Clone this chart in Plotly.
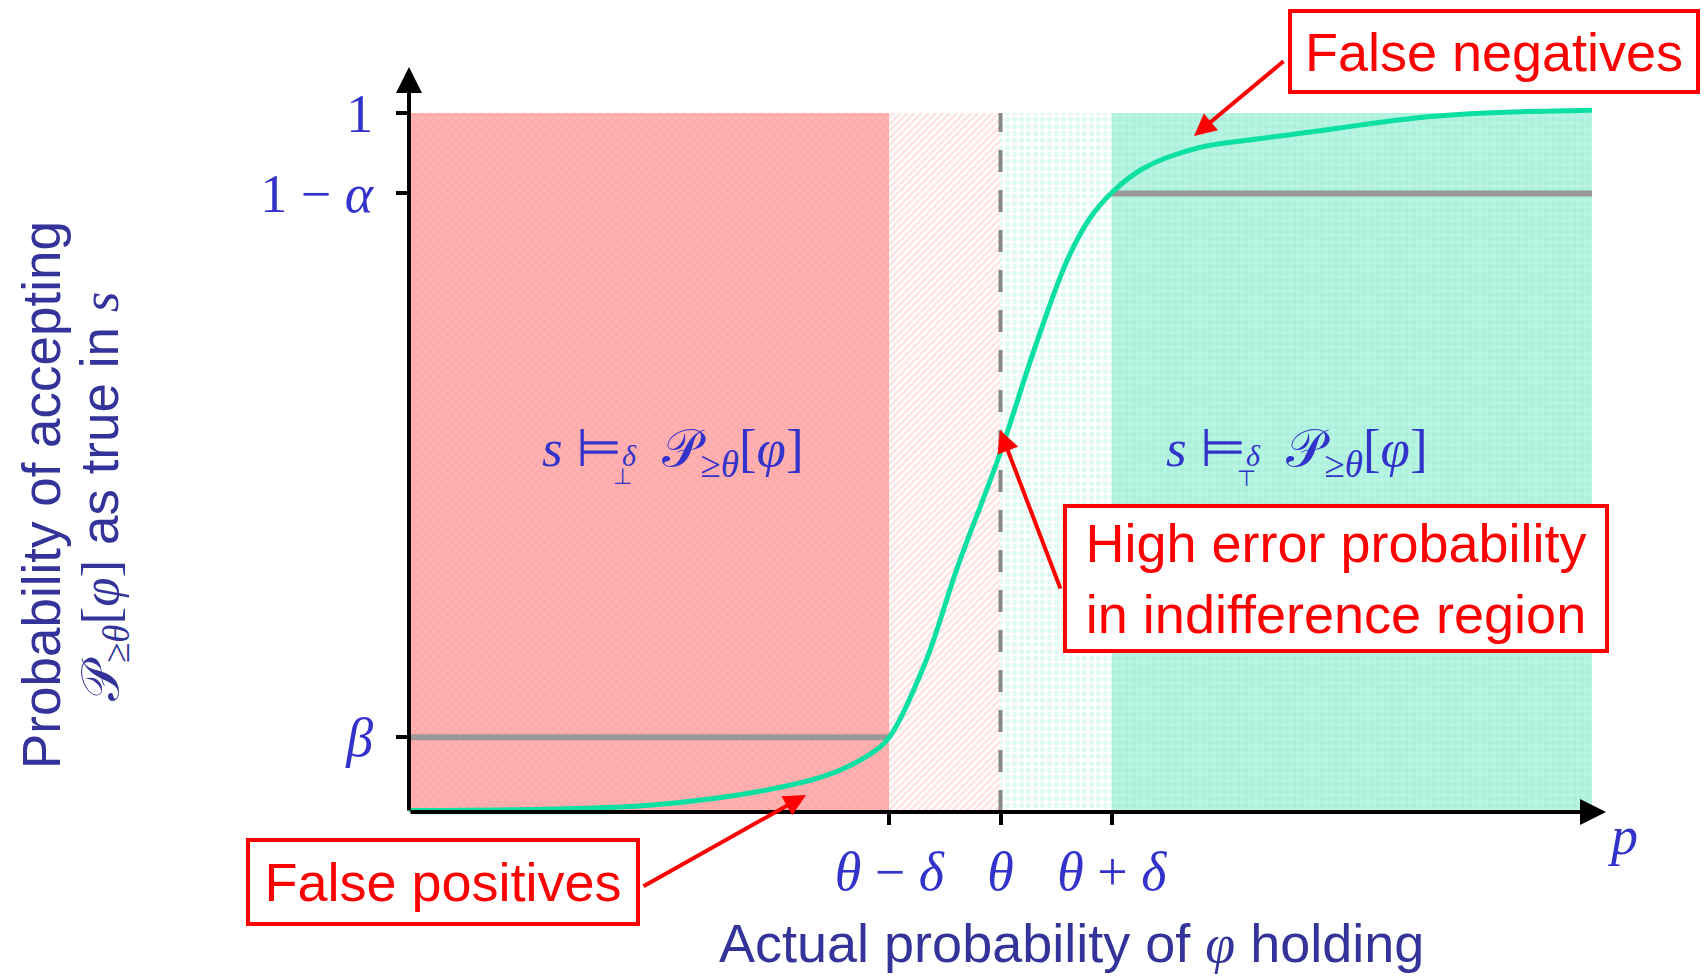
import plotly.graph_objects as go

# ---------------- data ----------------
THETA = 0.5
DELTA = 0.094
ALPHA = 0.115
BETA = 0.107

# operating characteristic curve (p -> probability of accepting)
curve_p = [0.0, 0.114, 0.206, 0.298, 0.354, 0.390, 0.406, 0.436, 0.464, 0.499,
           0.529, 0.556, 0.575, 0.594, 0.621, 0.667, 0.713, 0.759, 0.805, 0.851,
           0.897, 0.943, 1.0]
curve_y = [0.002, 0.004, 0.010, 0.030, 0.053, 0.083, 0.107, 0.212, 0.352, 0.510,
           0.664, 0.788, 0.848, 0.886, 0.921, 0.950, 0.962, 0.972, 0.983, 0.993,
           0.999, 1.002, 1.004]

region_edges = [0.0, THETA - DELTA, THETA, THETA + DELTA, 1.0]
x_tick_vals = [THETA - DELTA, THETA, THETA + DELTA]
x_tick_text = ['<i>θ</i> − <i>δ</i>', '<i>θ</i>', '<i>θ</i> + <i>δ</i>']
y_tick_vals = [BETA, 1 - ALPHA, 1.0]
y_tick_text = ['<i>β</i>', '1 − <i>α</i>', '1']

# ---------------- styling ----------------
W, H = 1707, 979
ML, MR, MT, MB = 409, 101, 67, 167
PW, PH = W - ML - MR, H - MT - MB
X_MAX = 1.0 + (PW - 1183) / 1183.0
Y_MAX = PH / 699.0

SANS = "Liberation Sans, Arial, sans-serif"
SERIF = "Liberation Serif, Times New Roman, serif"
BLUE = "#3333CC"
NAVY = "#333399"
RED = "#FF0000"
GREEN = "#0BDFA2"
GRAY = "#999999"


def px(x):
    return (x - ML) / PW


def py(y):
    return (H - MB - y) / PH


def label(x, y, text, font, **kw):
    d = dict(x=px(x), y=py(y), xref="paper", yref="paper", text=text,
             showarrow=False, xanchor="center", yanchor="middle", font=font)
    d.update(kw)
    return d


fig = go.Figure()

region_styles = [
    dict(bg="#FFB1B1", fg="#FF9A9A", shape="x", size=6, sol=0.3),
    dict(bg="#FFFFFF", fg="#FFC4C4", shape="/", size=5, sol=0.5),
    dict(bg="#FFFFFF", fg="#BFF6E6", shape=".", size=7, sol=0.45),
    dict(bg="#B7F4E1", fg="#9CEDD5", shape=".", size=7, sol=0.4),
]
for i, st in enumerate(region_styles):
    x0, x1 = region_edges[i], region_edges[i + 1]
    fig.add_trace(go.Scatter(
        x=[x0, x1, x1, x0, x0], y=[0, 0, 1, 1, 0], mode="lines",
        line=dict(width=0), fill="toself", fillcolor=st["bg"],
        fillpattern=dict(shape=st["shape"], bgcolor=st["bg"], fgcolor=st["fg"],
                         size=st["size"], solidity=st["sol"]),
        hoverinfo="skip", showlegend=False))

# gray threshold lines
fig.add_trace(go.Scatter(x=[0, THETA - DELTA], y=[BETA, BETA], mode="lines",
                         line=dict(color=GRAY, width=6), showlegend=False))
fig.add_trace(go.Scatter(x=[THETA + DELTA, 1.0], y=[1 - ALPHA, 1 - ALPHA], mode="lines",
                         line=dict(color=GRAY, width=6), showlegend=False))
# dashed theta line
fig.add_trace(go.Scatter(x=[THETA, THETA], y=[0, 1], mode="lines",
                         line=dict(color="#888888", width=4, dash="22px,18px"),
                         showlegend=False))
# curve
fig.add_trace(go.Scatter(x=curve_p, y=curve_y, mode="lines",
                         line=dict(color=GREEN, width=5, shape="spline", smoothing=1.0),
                         showlegend=False))

ann = []
# axis arrows
ann.append(dict(x=X_MAX, y=0, ax=0, ay=0, xref="x", yref="y", axref="x", ayref="y",
                text="", showarrow=True, arrowhead=2, arrowsize=1.3, arrowwidth=4,
                arrowcolor="black"))
ann.append(dict(x=0, y=Y_MAX, ax=0, ay=0, xref="x", yref="y", axref="x", ayref="y",
                text="", showarrow=True, arrowhead=2, arrowsize=1.3, arrowwidth=4,
                arrowcolor="black"))

# p label
ann.append(label(1622, 836, "<i>p</i>", dict(family=SERIF, size=54, color=BLUE)))

# axis titles
ann.append(label(1071, 944,
                 'Actual probability of <span style="font-family:Liberation Serif"><i>φ</i></span> holding',
                 dict(family=SANS, size=54, color=NAVY)))
ann.append(label(41, 495, "Probability of accepting",
                 dict(family=SANS, size=53, color=NAVY), textangle=-90))
ann.append(label(103, 497,
                 '<span style="font-family:Liberation Serif">𝒫<sub>≥<i>θ</i></sub>[<i>φ</i>]</span> as true in <span style="font-family:Liberation Serif"><i>s</i></span>',
                 dict(family=SANS, size=53, color=NAVY), textangle=-90))

# region labels
for cx in [673, 1297]:
    ann.append(label(cx, 452,
                     '<i>s</i> ⊨<span style="font-size:30px"><i>δ</i></span>  𝒫<sub>≥<i>θ</i></sub>[<i>φ</i>]',
                     dict(family=SERIF, size=53, color=BLUE)))
# small ⊥ / ⊤ under the δ
ann.append(label(622, 476, "⊥", dict(family=SERIF, size=22, color=BLUE)))
ann.append(label(1246, 478, "⊤", dict(family=SERIF, size=22, color=BLUE)))

# red boxes
PAD = 4
boxes = [
    ("False negatives", 1494, 51.5, 412, 85),
    ("False positives", 443, 882, 394, 88),
    ("High error probability<br>in indifference region", 1336, 578.5, 546, 149),
]
for text, cx, cy, bw, bh in boxes:
    ann.append(label(cx, cy, text, dict(family=SANS, size=54, color=RED),
                     align="center", width=bw - 8 - 2 * PAD, height=bh - 8 - 2 * PAD,
                     borderpad=PAD, borderwidth=4, bordercolor=RED, bgcolor="white"))

# red arrows (tip, tail offset)
arrows = [(1194, 136, 91, -76), (806, 795, -164, 92), (1000, 430, 61, 160)]
for tx, ty, dx, dy in arrows:
    ann.append(dict(x=px(tx), y=py(ty), xref="paper", yref="paper", text="",
                    showarrow=True, ax=dx, ay=dy, arrowhead=2, arrowsize=1.1,
                    arrowwidth=4, arrowcolor=RED))

fig.update_layout(
    width=W, height=H, margin=dict(l=ML, r=MR, t=MT, b=MB, pad=0),
    paper_bgcolor="white", plot_bgcolor="white", showlegend=False,
    annotations=ann,
    xaxis=dict(range=[0, X_MAX], tickvals=x_tick_vals, ticktext=x_tick_text,
               ticks="outside", ticklen=12, tickwidth=4, tickcolor="black",
               showgrid=False, zeroline=False, showline=False,
               tickfont=dict(family=SERIF, size=54, color=BLUE)),
    yaxis=dict(range=[0, Y_MAX], tickvals=y_tick_vals, ticktext=y_tick_text,
               ticks="outside", ticklen=12, tickwidth=4, tickcolor="black",
               showgrid=False, zeroline=False, showline=False,
               ticklabelstandoff=12,
               tickfont=dict(family=SERIF, size=54, color=BLUE)),
)

fig.write_html("out.html")
